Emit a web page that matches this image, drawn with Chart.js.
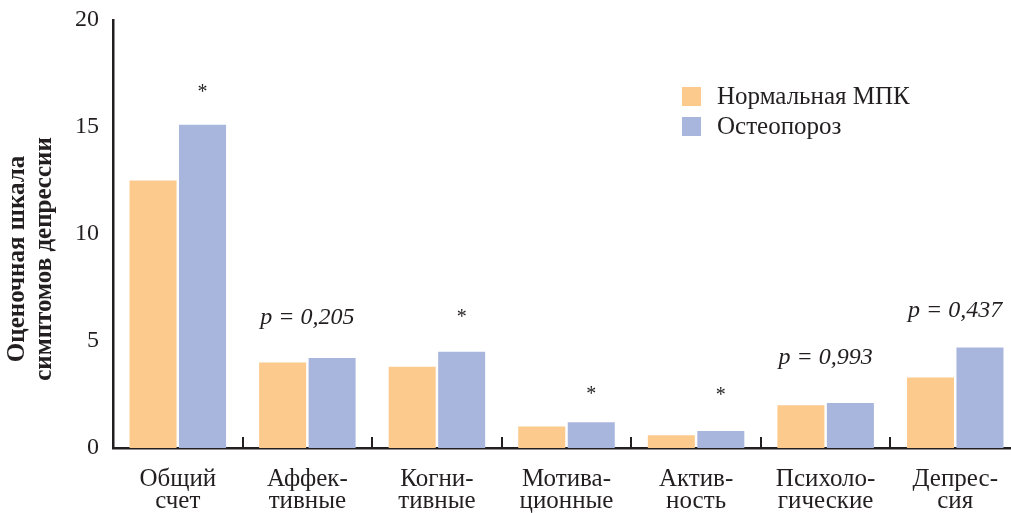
<!DOCTYPE html>
<html>
<head>
<meta charset="utf-8">
<script src="https://cdn.jsdelivr.net/npm/chart.js@4.4.1/dist/chart.umd.min.js"></script>
<style>
  html, body { margin: 0; padding: 0; background: #fff; overflow: hidden; }
  #wrap { position: relative; width: 1020px; height: 513px; }
</style>
</head>
<body>
<div id="wrap"><canvas id="chart" width="1020" height="513"></canvas></div>
<script>
// Category labels (split into two lines) and series values
const categories = [
  ["Общий", "счет"],
  ["Аффек-", "тивные"],
  ["Когни-", "тивные"],
  ["Мотива-", "ционные"],
  ["Актив-", "ность"],
  ["Психоло-", "гические"],
  ["Депрес-", "сия"]
];
const seriesNames = ["Нормальная МПК", "Остеопороз"];
const normalBmd = [12.5, 4.0, 3.8, 1.0, 0.6, 2.0, 3.3];
const osteoporosis = [15.1, 4.2, 4.5, 1.2, 0.8, 2.1, 4.7];
const yTicks = [0, 5, 10, 15, 20];
const yTitle = ["Оценочная шкала", "симптомов депрессии"];

// Significance marks: asterisks and p-values, placed at these axis levels
const starLevels = [16.65, null, 6.15, 2.55, 2.5, null, null];
const pNotes = [null, "p = 0,205", null, null, null, "p = 0,993", "p = 0,437"];
const pLevels = [null, 6.1, null, null, null, 4.2, 6.4];

const INK = '#231F20';
const SERIF = '"Liberation Serif", "DejaVu Serif", serif';
const COLORS = ['#FCCA8C', '#A8B6DE'];

const innerTicks = {
  id: 'innerTicks',
  afterDraw(chart) {
    const x = chart.scales.x, ctx = chart.ctx;
    const base = chart.chartArea.bottom;
    ctx.save();
    ctx.strokeStyle = INK;
    ctx.lineWidth = 2;
    for (let i = 1; i < categories.length; i++) {
      const px = Math.round((x.getPixelForValue(i - 1) + x.getPixelForValue(i)) / 2);
      ctx.beginPath();
      ctx.moveTo(px, base);
      ctx.lineTo(px, base - 11);
      ctx.stroke();
    }
    ctx.restore();
  }
};

const notes = {
  id: 'notes',
  afterDatasetsDraw(chart) {
    const ctx = chart.ctx, y = chart.scales.y;
    const meta = chart.getDatasetMeta(1);
    ctx.save();
    ctx.fillStyle = INK;
    ctx.textAlign = 'center';
    ctx.textBaseline = 'middle';
    starLevels.forEach((v, i) => {
      if (v == null) return;
      ctx.font = '20px ' + SERIF;
      ctx.fillText('*', meta.data[i].x, y.getPixelForValue(v) + 1);
    });
    pNotes.forEach((t, i) => {
      if (!t) return;
      const cx = chart.scales.x.getPixelForValue(i);
      ctx.font = 'italic 24px ' + SERIF;
      ctx.fillText(t, cx, y.getPixelForValue(pLevels[i]));
    });
    ctx.restore();
  }
};

const boxLegend = {
  id: 'boxLegend',
  afterDraw(chart) {
    const ctx = chart.ctx;
    ctx.save();
    ctx.font = '25px ' + SERIF;
    ctx.textBaseline = 'alphabetic';
    ctx.textAlign = 'left';
    chart.data.datasets.forEach((ds, i) => {
      const top = 87 + i * 30;
      ctx.fillStyle = ds.backgroundColor;
      ctx.fillRect(682, top, 19, 19);
      ctx.fillStyle = INK;
      ctx.fillText(ds.label, 717, top + 17);
    });
    ctx.restore();
  }
};

const axisTitle = {
  id: 'axisTitle',
  afterDraw(chart) {
    const ctx = chart.ctx;
    ctx.save();
    ctx.fillStyle = INK;
    ctx.font = 'bold 25px ' + SERIF;
    ctx.textAlign = 'center';
    ctx.textBaseline = 'alphabetic';
    ctx.translate(0, 259);
    ctx.rotate(-Math.PI / 2);
    ctx.fillText(yTitle[0], 0, 24);
    ctx.fillText(yTitle[1], 0, 51);
    ctx.restore();
  }
};

new Chart(document.getElementById('chart'), {
  type: 'bar',
  data: {
    labels: categories,
    datasets: [
      { label: seriesNames[0], data: normalBmd, backgroundColor: COLORS[0] },
      { label: seriesNames[1], data: osteoporosis, backgroundColor: COLORS[1] }
    ]
  },
  options: {
    responsive: false,
    animation: false,
    devicePixelRatio: 1,
    layout: { padding: { top: 20, left: 0, right: 0, bottom: 0 } },
    datasets: { bar: { categoryPercentage: 0.764, barPercentage: 0.95 } },
    plugins: { legend: { display: false }, tooltip: { enabled: false } },
    scales: {
      x: {
        grid: { display: false, drawTicks: false },
        border: { display: true, color: INK, width: 2.5 },
        ticks: { color: INK, padding: 20, font: { family: SERIF, size: 25, lineHeight: 0.88 } },
        afterFit(s) { s.height = 65; s.paddingLeft = 0; s.paddingRight = 0; }
      },
      y: {
        min: 0, max: 20,
        afterBuildTicks(s) { s.ticks = yTicks.map(v => ({ value: v })); },
        grid: { display: false, drawTicks: false },
        border: { display: true, color: INK, width: 2.5 },
        ticks: { color: INK, padding: 14, font: { family: SERIF, size: 24 } },
        afterFit(s) { s.width = 113; s.paddingTop = 0; s.paddingBottom = 0; }
      }
    }
  },
  plugins: [innerTicks, notes, boxLegend, axisTitle]
});
</script>
</body>
</html>
